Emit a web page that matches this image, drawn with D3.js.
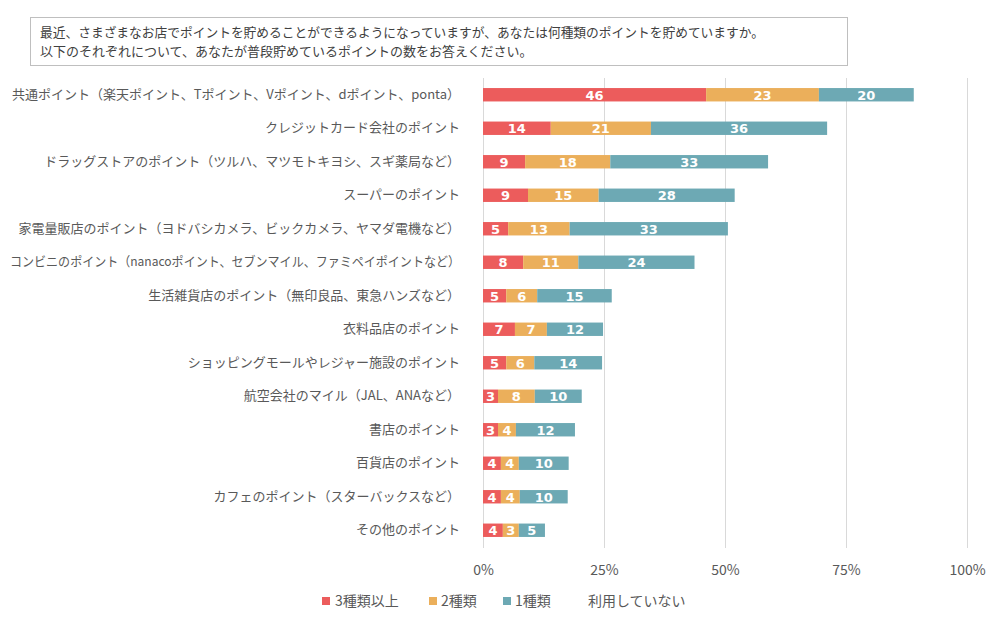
<!DOCTYPE html>
<html><head><meta charset="utf-8">
<script src="https://cdn.jsdelivr.net/npm/d3@7"></script>
<style>
html,body{margin:0;padding:0;background:#fff;}
svg{display:block;font-family:"Noto Sans CJK JP","Noto Sans",sans-serif;}
</style></head>
<body>
<svg id="chart" width="1006" height="619"></svg>
<script>
const titleLines = [
  "最近、さまざまなお店でポイントを貯めることができるようになっていますが、あなたは何種類のポイントを貯めていますか。",
  "以下のそれぞれについて、あなたが普段貯めているポイントの数をお答えください。"
];
const categories = [
  "共通ポイント（楽天ポイント、Tポイント、Vポイント、dポイント、ponta）",
  "クレジットカード会社のポイント",
  "ドラッグストアのポイント（ツルハ、マツモトキヨシ、スギ薬局など）",
  "スーパーのポイント",
  "家電量販店のポイント（ヨドバシカメラ、ビックカメラ、ヤマダ電機など）",
  "コンビニのポイント（nanacoポイント、セブンマイル、ファミペイポイントなど）",
  "生活雑貨店のポイント（無印良品、東急ハンズなど）",
  "衣料品店のポイント",
  "ショッピングモールやレジャー施設のポイント",
  "航空会社のマイル（JAL、ANAなど）",
  "書店のポイント",
  "百貨店のポイント",
  "カフェのポイント（スターバックスなど）",
  "その他のポイント"
];
const seriesNames = ["3種類以上", "2種類", "1種類", "利用していない"];
const three = [46.1, 14.0, 8.7, 9.3, 5.2, 8.3, 4.8, 6.6, 4.8, 3.1, 3.1, 3.7, 3.7, 4.1];
const two   = [23.3, 20.7, 17.6, 14.6, 12.7, 11.4, 6.4, 6.6, 5.8, 7.6, 3.7, 3.7, 3.9, 3.3];
const one   = [19.6, 36.4, 32.6, 28.1, 32.7, 24.0, 15.4, 11.6, 14.0, 9.7, 12.2, 10.3, 9.9, 5.4];
const none  = categories.map((c, i) => +(100 - three[i] - two[i] - one[i]).toFixed(1));
const tickValues = [0, 25, 50, 75, 100];
const colors = ["#EC5C5C", "#EBAF5B", "#6DA9B4", "#FFFFFF"];

const svg = d3.select("#chart");
const textColor = "#595959";

// Title box
svg.append("rect").attr("x", 30.5).attr("y", 17.5).attr("width", 817).attr("height", 48)
  .attr("fill", "#fff").attr("stroke", "#bfbfbf").attr("stroke-width", 1);
svg.selectAll("text.title").data(titleLines).enter().append("text")
  .attr("class", "title")
  .attr("x", 40).attr("y", (d, i) => 37 + i * 19)
  .attr("font-size", 13).attr("fill", "#404040")
  .text(d => d)
  .each(function(d, i) {
    if (i === 0) d3.select(this).attr("textLength", 724).attr("lengthAdjust", "spacingAndGlyphs");
  });

const x = d3.scaleLinear().domain([0, 100]).range([483, 967]);
const y = d3.scaleBand().domain(categories).range([78, 547]).paddingInner(0.6).paddingOuter(0.3);

// gridlines
svg.append("g").selectAll("line").data(tickValues).enter().append("line")
  .attr("x1", d => Math.round(x(d)) + 0.5).attr("x2", d => Math.round(x(d)) + 0.5)
  .attr("y1", 78).attr("y2", 548)
  .attr("stroke", "#d9d9d9").attr("stroke-width", 1);

// x axis labels
const xAxis = d3.axisBottom(x).tickValues(tickValues).tickFormat(d => d + "%").tickSize(0).tickPadding(0);
const gx = svg.append("g").attr("transform", "translate(0,565)").call(xAxis);
gx.select(".domain").remove();
gx.selectAll("text").attr("font-size", 14).attr("fill", textColor)
  .attr("font-family", "'Noto Sans CJK JP','Noto Sans',sans-serif");

// y axis labels
const yAxis = d3.axisLeft(y).tickSize(0).tickPadding(0);
const gy = svg.append("g").attr("transform", "translate(460,0)").call(yAxis);
gy.select(".domain").remove();
gy.selectAll("text").attr("font-size", 13).attr("fill", textColor)
  .attr("font-family", "'Noto Sans CJK JP','Noto Sans',sans-serif")
  .each(function() {
    const len = this.getComputedTextLength();
    if (len > 450) d3.select(this).attr("textLength", 450).attr("lengthAdjust", "spacingAndGlyphs");
  });

// stacked data
const rows = categories.map((c, i) => ({cat: c, s0: three[i], s1: two[i], s2: one[i], s3: none[i]}));
const stack = d3.stack().keys(["s0", "s1", "s2", "s3"]);
const layers = stack(rows);

const lg = svg.append("g").selectAll("g").data(layers).enter().append("g")
  .attr("fill", (d, i) => colors[i])
  .attr("fill-opacity", (d, i) => i === 3 ? 0 : 1);
lg.selectAll("rect").data(d => d).enter().append("rect")
  .attr("x", d => x(d[0])).attr("width", d => x(d[1]) - x(d[0]))
  .attr("y", d => y(d.data.cat)).attr("height", y.bandwidth());

// data labels for first three series
const labelG = svg.append("g");
layers.slice(0, 3).forEach(layer => {
  labelG.selectAll(null).data(layer).enter().append("text")
    .attr("x", d => (x(d[0]) + x(d[1])) / 2)
    .attr("y", d => y(d.data.cat) + y.bandwidth() / 2 + 5)
    .attr("text-anchor", "middle")
    .attr("font-size", 13).attr("font-weight", "bold").attr("fill", "#fff")
    .attr("font-family", "'DejaVu Sans','Noto Sans',sans-serif")
    .text(d => Math.round(d[1] - d[0]));
});

// legend
const legendX = [322, 429, 503, 574];
const legendTextX = [335, 441, 515, 588];
const leg = svg.append("g").selectAll("g").data(seriesNames).enter().append("g");
leg.append("rect").attr("x", (d, i) => legendX[i]).attr("y", 597).attr("width", 8).attr("height", 8)
  .attr("fill", (d, i) => colors[i]);
leg.append("text").attr("x", (d, i) => legendTextX[i]).attr("y", 606)
  .attr("font-size", 14).attr("fill", textColor).text(d => d);
</script>
</body></html>
